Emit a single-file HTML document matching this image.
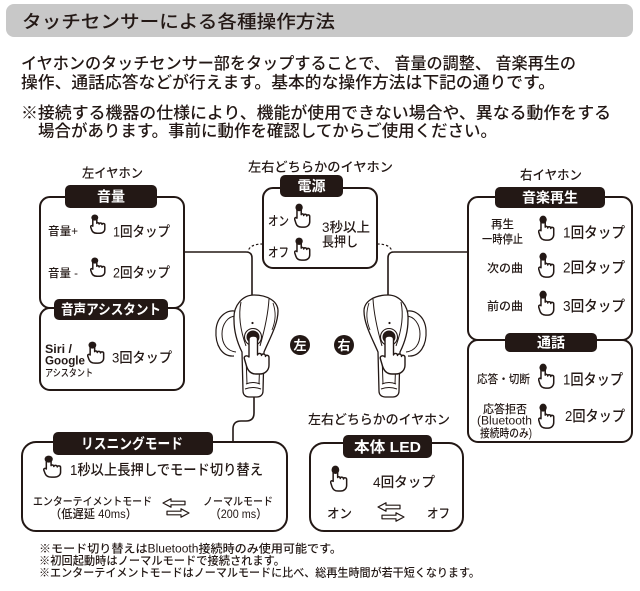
<!DOCTYPE html>
<html><head><meta charset="utf-8">
<style>
html,body{margin:0;padding:0;background:#fff}
svg{display:block}
text{font-family:"Liberation Sans","Noto Sans CJK JP",sans-serif;fill:#231815;font-weight:500}
.w{fill:#fff;font-weight:bold}
.b{font-weight:bold}
</style></head>
<body>
<svg width="640" height="591" viewBox="0 0 640 591" xmlns="http://www.w3.org/2000/svg">
<defs>
<symbol id="h" viewBox="0 0 20 28" preserveAspectRatio="none">
<path d="M3.5,6 V17 C2,15.6 0.4,16.6 0.9,18.6 L2.2,22.5 C3.2,25.6 5.6,27 9,27 H12 C15.6,27 18.5,24.6 18.5,21 V15 C18.5,13 15.4,12.6 15,14.5 C15,12.3 11.8,11.9 11.4,14 C11.4,11.9 8.5,11.6 8.5,13 V6" fill="#fff" stroke="#231815" stroke-width="1.5" vector-effect="non-scaling-stroke" stroke-linejoin="round"/>
<circle cx="6" cy="5" r="4.3" fill="#231815"/>
</symbol>
<symbol id="ar" viewBox="0 0 28 20">
<polygon points="1,5 9,0.8 9,3.2 23,3.2 23,6.8 9,6.8 9,9.2" fill="#fff" stroke="#231815" stroke-width="1.2" stroke-linejoin="round"/>
<polygon points="27,15 19,10.8 19,13.2 5,13.2 5,16.8 19,16.8 19,19.2" fill="#fff" stroke="#231815" stroke-width="1.2" stroke-linejoin="round"/>
</symbol>
<g id="bud">
<path d="M238,312 C228,308 217,316 216,330 C215,345 222,357 234,356" fill="#fff" stroke="#231815" stroke-width="1.2"/>
<path d="M236,316 C228,316 222,324 222,334 C222,344 227,351 236,352" fill="none" stroke="#231815" stroke-width="1"/>
<path d="M234,320 C233,305 243,295 254,295 C267,295 278,301 278,311 C278,324 270,338 264,352 L263,391 C263,395 260,397 257,397 L249,397 C246,397 243,395 243,391 L242,352 C237,342 234,332 234,320 Z" fill="#fff" stroke="#231815" stroke-width="1.3"/>
<path d="M241,302 C238,316 241,332 246,346" fill="none" stroke="#231815" stroke-width="1"/>
<path d="M269,299 C268,316 264,332 260,346" fill="none" stroke="#231815" stroke-width="1"/>
<path d="M273,303 C276,312 276,320 272,330" fill="none" stroke="#231815" stroke-width="0.9"/>
<path d="M246,356 L247,384 M260,356 L259,384" fill="none" stroke="#231815" stroke-width="1"/>
<path d="M246,384 Q253,381 260,384 M245,389 Q253,386 261,389" fill="none" stroke="#231815" stroke-width="1"/>
<circle cx="252.5" cy="323" r="1.1" fill="#231815"/>
<circle cx="253" cy="337" r="8.5" fill="#fff" stroke="#231815" stroke-width="1.1"/>
<circle cx="253" cy="337" r="6.5" fill="#231815"/>
</g>
<path id="hand" d="M249,339 C249,335 257.5,335 257.5,339 V355 C258,352.8 261.5,352.8 261.5,355.5 C262,353.3 265.5,353.5 265.5,356.5 C266,354.5 269,355 269,357.5 V365 C269,370.5 265,374 259.5,374 H256 C251,374 248,371 246.5,366 L244.3,358.5 C243.8,356 246.8,354.8 249,357 Z" fill="#fff" stroke="#231815" stroke-width="1.4" stroke-linejoin="round"/>
</defs>

<!-- Title -->
<rect x="6" y="4" width="627" height="33" rx="8" fill="#c8c8c8"/>
<text x="22" y="28" font-size="18" textLength="313" lengthAdjust="spacingAndGlyphs">タッチセンサーによる各種操作方法</text>

<g font-size="16.5">
<text x="21" y="69" textLength="555" lengthAdjust="spacingAndGlyphs">イヤホンのタッチセンサー部をタップすることで、 音量の調整、 音楽再生の</text>
<text x="21" y="88" textLength="534" lengthAdjust="spacingAndGlyphs">操作、通話応答などが行えます。基本的な操作方法は下記の通りです。</text>
<text x="21" y="118.5" textLength="590" lengthAdjust="spacingAndGlyphs">※接続する機器の仕様により、機能が使用できない場合や、異なる動作をする</text>
<text x="38" y="136.5" textLength="459" lengthAdjust="spacingAndGlyphs">場合があります。事前に動作を確認してからご使用ください。</text>
</g>

<!-- connectors -->
<g fill="none" stroke="#231815" stroke-width="1.6">
<path d="M184,252 H246 Q252,252 252,258 V296"/>
<path d="M468,252 H394 Q388,252 388,258 V296"/>
<path d="M254,397 V413 Q254,421 246,421 H241 Q233,421 233,429 V442"/>
</g>
<g fill="none" stroke="#231815" stroke-width="1.2" stroke-dasharray="2.5,2">
<path d="M263,244 Q249,244 248,252"/>
<path d="M377,244 Q391,244 392,252"/>
</g>

<!-- Left panel -->
<text x="82" y="177.5" font-size="13" textLength="61" lengthAdjust="spacingAndGlyphs">左イヤホン</text>
<g fill="#fff" stroke="#231815" stroke-width="2">
<rect x="40" y="197" width="144" height="111" rx="10"/>
<rect x="40" y="308" width="144" height="82" rx="10"/>
</g>
<rect x="65" y="185" width="92" height="23" rx="5" fill="#231815"/>
<text class="w" x="111" y="201.5" font-size="14" text-anchor="middle">音量</text>
<rect x="54" y="299" width="114" height="21" rx="5" fill="#231815"/>
<text class="w" x="111" y="314.5" font-size="14" text-anchor="middle" textLength="100" lengthAdjust="spacingAndGlyphs">音声アシスタント</text>

<text x="48" y="235" font-size="11.5" textLength="30" lengthAdjust="spacingAndGlyphs">音量+</text>
<use href="#h" x="90" y="214" width="16" height="20"/>
<text x="113" y="236.5" font-size="14" textLength="57" lengthAdjust="spacingAndGlyphs">1回タップ</text>
<text x="48" y="277" font-size="11.5" textLength="30" lengthAdjust="spacingAndGlyphs">音量 -</text>
<use href="#h" x="90" y="257" width="16" height="20"/>
<text x="113" y="277.5" font-size="14" textLength="57" lengthAdjust="spacingAndGlyphs">2回タップ</text>

<text class="b" x="45" y="353" font-size="11.5" textLength="27" lengthAdjust="spacingAndGlyphs">Siri /</text>
<text class="b" x="45" y="364.5" font-size="12" textLength="40" lengthAdjust="spacingAndGlyphs">Google</text>
<text x="45" y="376.5" font-size="10" textLength="48" lengthAdjust="spacingAndGlyphs">アシスタント</text>
<use href="#h" x="87" y="341" width="18" height="23"/>
<text x="112" y="362.5" font-size="14" textLength="60" lengthAdjust="spacingAndGlyphs">3回タップ</text>

<!-- Power box -->
<text x="320.5" y="171.5" font-size="13" text-anchor="middle" textLength="145" lengthAdjust="spacingAndGlyphs">左右どちらかのイヤホン</text>
<rect x="263" y="188" width="114" height="80" rx="10" fill="#fff" stroke="#231815" stroke-width="2"/>
<rect x="280" y="175" width="63" height="22" rx="5" fill="#231815"/>
<text class="w" x="311.5" y="191" font-size="14" text-anchor="middle">電源</text>
<text x="268" y="225.5" font-size="13" textLength="21" lengthAdjust="spacingAndGlyphs">オン</text>
<use href="#h" x="294" y="203" width="17" height="25"/>
<text x="268" y="257" font-size="13" textLength="21" lengthAdjust="spacingAndGlyphs">オフ</text>
<use href="#h" x="294" y="237" width="17" height="24"/>
<text x="322" y="232" font-size="13.5" textLength="48" lengthAdjust="spacingAndGlyphs">3秒以上</text>
<text x="322" y="246.5" font-size="13.5" textLength="36" lengthAdjust="spacingAndGlyphs">長押し</text>

<!-- Earbuds -->
<use href="#bud"/>
<use href="#hand"/>
<g transform="matrix(-1 0 0 1 642 0)"><use href="#bud"/></g>
<use href="#hand" transform="translate(136,0)"/>

<circle cx="300" cy="345" r="10" fill="#231815"/>
<text class="w" x="300" y="350" font-size="13" text-anchor="middle">左</text>
<circle cx="344" cy="345" r="10" fill="#231815"/>
<text class="w" x="344" y="350" font-size="13" text-anchor="middle">右</text>

<!-- Right panel -->
<text x="520" y="179.5" font-size="13" textLength="62" lengthAdjust="spacingAndGlyphs">右イヤホン</text>
<g fill="#fff" stroke="#231815" stroke-width="2">
<rect x="468" y="197" width="164" height="143" rx="10"/>
<rect x="468" y="340" width="164" height="102" rx="10"/>
</g>
<rect x="495" y="187" width="110" height="21" rx="5" fill="#231815"/>
<text class="w" x="550" y="202.5" font-size="14" text-anchor="middle">音楽再生</text>
<rect x="505" y="333" width="92" height="19" rx="5" fill="#231815"/>
<text class="w" x="551" y="347.5" font-size="14" text-anchor="middle">通話</text>

<g font-size="11.5" text-anchor="middle">
<text x="502.5" y="228">再生</text>
<text x="502.5" y="243" textLength="41" lengthAdjust="spacingAndGlyphs">一時停止</text>
<text x="505" y="272" textLength="36" lengthAdjust="spacingAndGlyphs">次の曲</text>
<text x="505" y="310" textLength="36" lengthAdjust="spacingAndGlyphs">前の曲</text>
<text x="503.5" y="383" textLength="53" lengthAdjust="spacingAndGlyphs">応答・切断</text>
<text x="505" y="413" textLength="44" lengthAdjust="spacingAndGlyphs">応答拒否</text>
<text x="504.5" y="424.5" textLength="55" lengthAdjust="spacingAndGlyphs">(Bluetooth</text>
<text x="506" y="437" textLength="52" lengthAdjust="spacingAndGlyphs">接続時のみ)</text>
</g>
<use href="#h" x="538" y="215" width="17" height="26"/>
<use href="#h" x="538" y="252" width="17" height="26"/>
<use href="#h" x="538" y="290" width="17" height="26"/>
<use href="#h" x="538" y="363" width="17" height="26"/>
<use href="#h" x="538" y="403" width="17" height="26"/>
<g font-size="15">
<text x="563" y="237.5" textLength="62" lengthAdjust="spacingAndGlyphs">1回タップ</text>
<text x="563" y="272.5" textLength="62" lengthAdjust="spacingAndGlyphs">2回タップ</text>
<text x="563" y="311" textLength="62" lengthAdjust="spacingAndGlyphs">3回タップ</text>
<text x="563" y="384.5" textLength="60" lengthAdjust="spacingAndGlyphs">1回タップ</text>
<text x="565" y="421" textLength="60" lengthAdjust="spacingAndGlyphs">2回タップ</text>
</g>

<!-- Listening mode -->
<rect x="22" y="442" width="265" height="89" rx="14" fill="#fff" stroke="#231815" stroke-width="2"/>
<rect x="53" y="432" width="160" height="23" rx="5" fill="#231815"/>
<text class="w" x="132" y="449" font-size="14.5" text-anchor="middle" textLength="102" lengthAdjust="spacingAndGlyphs">リスニングモード</text>
<use href="#h" x="43" y="455" width="19" height="23"/>
<text x="70" y="475" font-size="14.5" textLength="193" lengthAdjust="spacingAndGlyphs">1秒以上長押しでモード切り替え</text>
<text x="92.5" y="505" font-size="11" text-anchor="middle" textLength="119" lengthAdjust="spacingAndGlyphs">エンターテイメントモード</text>
<text x="93.5" y="518" font-size="12" text-anchor="middle" textLength="87" lengthAdjust="spacingAndGlyphs">（低遅延 40ms）</text>
<use href="#ar" x="162" y="498" width="28" height="20"/>
<text x="238" y="505" font-size="11" text-anchor="middle" textLength="70" lengthAdjust="spacingAndGlyphs">ノーマルモード</text>
<text x="238.5" y="518" font-size="12" text-anchor="middle" textLength="57" lengthAdjust="spacingAndGlyphs">（200 ms）</text>

<!-- LED -->
<text x="379" y="424" font-size="13" text-anchor="middle" textLength="142" lengthAdjust="spacingAndGlyphs">左右どちらかのイヤホン</text>
<rect x="310" y="443" width="153" height="88" rx="14" fill="#fff" stroke="#231815" stroke-width="2"/>
<rect x="343" y="435" width="89" height="23" rx="5" fill="#231815"/>
<text class="w" x="387.5" y="452" font-size="15" text-anchor="middle" textLength="67" lengthAdjust="spacingAndGlyphs">本体 LED</text>
<use href="#h" x="330" y="465" width="18" height="27"/>
<text x="373" y="487" font-size="14" textLength="62" lengthAdjust="spacingAndGlyphs">4回タップ</text>
<text x="327" y="518" font-size="13" textLength="25" lengthAdjust="spacingAndGlyphs">オン</text>
<use href="#ar" x="377" y="502" width="28" height="20"/>
<text x="427" y="518" font-size="13" textLength="23" lengthAdjust="spacingAndGlyphs">オフ</text>

<!-- Footnotes -->
<g font-size="11.5">
<text x="39" y="552.5" textLength="303" lengthAdjust="spacingAndGlyphs">※モード切り替えはBluetooth接続時のみ使用可能です。</text>
<text x="39" y="564.5" textLength="246" lengthAdjust="spacingAndGlyphs">※初回起動時はノーマルモードで接続されます。</text>
<text x="39" y="576.5" textLength="441" lengthAdjust="spacingAndGlyphs">※エンターテイメントモードはノーマルモードに比べ、総再生時間が若干短くなります。</text>
</g>
</svg>
</body></html>
